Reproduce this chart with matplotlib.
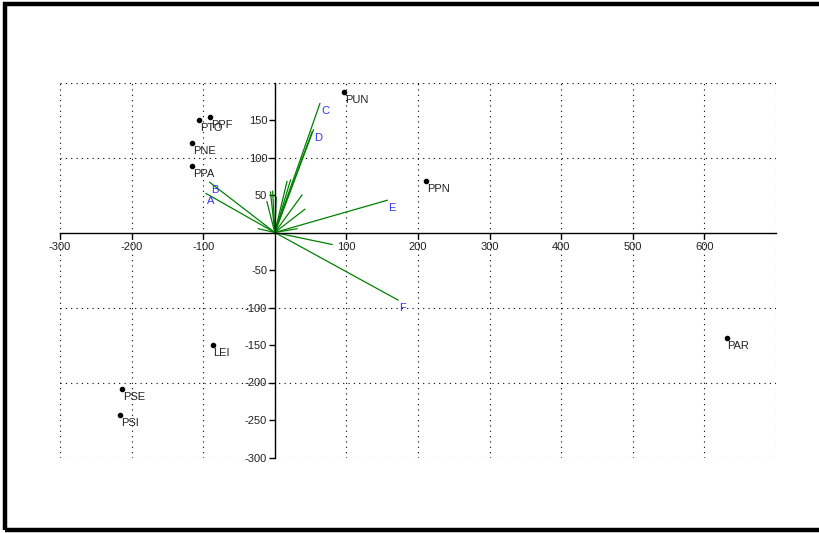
import matplotlib
matplotlib.use("Agg")
import matplotlib.pyplot as plt
from matplotlib.patches import Rectangle

plt.rcParams['font.family'] = ['Liberation Sans', 'DejaVu Sans']

# Observation scores
obs_names = ['PUN', 'PPN', 'PTO', 'PPF', 'PNE', 'PPA', 'LEI', 'PSE', 'PSI', 'PAR']
obs_x = [97, 211, -106, -90, -115, -115, -87, -213, -216, 631]
obs_y = [187, 69, 150, 154, 119, 89, -150, -209, -243, -141]

# Variable loadings (labelled)
var_names = ['A', 'B', 'C', 'D', 'E', 'F']
var_x = [-96, -91, 63, 54, 157, 172]
var_y = [52, 67, 172, 137, 43, -90]

# Variable loadings (unlabelled)
extra_x = [80, -23, -11, -6, -3, 17, 22, 52, 38, 42, 31, 2]
extra_y = [-16, 5, 41, 54, 55, 68, 70, 134, 50, 31, 5, 47]

x_ticks = [-300, -200, -100, 100, 200, 300, 400, 500, 600]
y_ticks = [-300, -250, -200, -150, -100, -50, 50, 100, 150]
x_grid = [-300, -200, -100, 0, 100, 200, 300, 400, 500, 600, 700]
y_grid = [-300, -200, -100, 100, 200]

fig = plt.figure(figsize=(8.19, 5.33), dpi=100)
ax = fig.add_axes([60 / 819, 1 - 457.5 / 533, 716 / 819, 375 / 533])
ax.set_xlim(-300, 700)
ax.set_ylim(-300, 200)

# dotted grid
dot = dict(color='black', lw=0.8, linestyle=(0, (1, 3.8)), zorder=1)
for gx in x_grid:
    ax.plot([gx, gx], [-300, 200], **dot)
for gy in y_grid:
    ax.plot([-300, 700], [gy, gy], **dot)

# axes through the origin
for s in ['top', 'right']:
    ax.spines[s].set_visible(False)
ax.spines['left'].set_position(('data', 0))
ax.spines['bottom'].set_position(('data', 0))
for s in ['left', 'bottom']:
    ax.spines[s].set_linewidth(1.0)
    ax.spines[s].set_zorder(3)
ax.set_xticks(x_ticks)
ax.set_yticks(y_ticks)
ax.set_xticklabels([str(v) for v in x_ticks])
ax.set_yticklabels([str(v) for v in y_ticks])
ax.tick_params(axis='x', direction='out', length=4, width=1, pad=3.2, labelsize=8, colors='black')
ax.tick_params(axis='y', direction='out', length=4, width=1, pad=1.5, labelsize=8, colors='black')
for lab in ax.get_xticklabels() + ax.get_yticklabels():
    lab.set_color('#222222')

# loading vectors
for vx, vy in zip(extra_x, extra_y):
    ax.plot([0, vx], [0, vy], color='#008000', lw=0.9, zorder=2)
for name, vx, vy in zip(var_names, var_x, var_y):
    ax.plot([0, vx], [0, vy], color='#008000', lw=0.9, zorder=2)
    ax.annotate(name, (vx, vy), xytext=(1, -3), textcoords='offset pixels',
                ha='left', va='top', fontsize=8, color='#3232ff')

# observation points
ax.plot(obs_x, obs_y, 'o', color='black', ms=3, zorder=4)
for name, ox, oy in zip(obs_names, obs_x, obs_y):
    ax.annotate(name, (ox, oy), xytext=(1, -3), textcoords='offset pixels',
                ha='left', va='top', fontsize=8, color='#222222')

# outer frame
fig.add_artist(Rectangle((5 / 819, 3 / 533), 1.2, 1 - 7 / 533,
                         transform=fig.transFigure, fill=False,
                         edgecolor='black', lw=3.2, clip_on=False))

fig.savefig('out.png', dpi=100)
